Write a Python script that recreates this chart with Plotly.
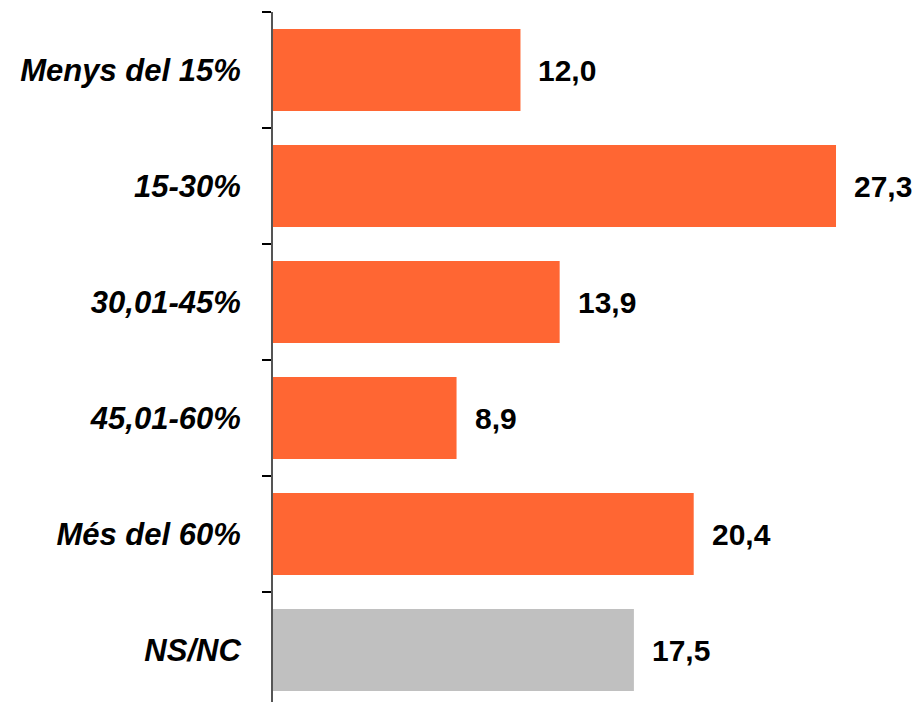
import plotly.graph_objects as go

categories = ["Menys del 15%", "15-30%", "30,01-45%", "45,01-60%", "Més del 60%", "NS/NC"]
values = [12.0, 27.3, 13.9, 8.9, 20.4, 17.5]
value_labels = ["12,0", "27,3", "13,9", "8,9", "20,4", "17,5"]
colors = ["#FF6633"] * 5 + ["#C0C0C0"]

FONT = "Liberation Sans, Arial, sans-serif"

fig = go.Figure()
fig.add_trace(go.Bar(
    x=values, y=categories, orientation="h",
    marker=dict(color=colors, line=dict(width=0)),
    hoverinfo="skip",
))

for c, v, t in zip(categories, values, value_labels):
    fig.add_annotation(
        x=v, y=c, text="<b>" + t + "</b>", showarrow=False,
        xanchor="left", yanchor="middle", xshift=16, yshift=0,
        font=dict(family=FONT, size=30, color="#000000"),
    )

fig.update_layout(
    width=915, height=702,
    margin=dict(l=273, r=0, t=12, b=0),
    paper_bgcolor="white", plot_bgcolor="white",
    showlegend=False,
    bargap=0.293,
    xaxis=dict(range=[0, 31.13], visible=False, fixedrange=True),
    yaxis=dict(
        type="category",
        categoryorder="array", categoryarray=categories,
        range=[5.448, -0.5],
        showline=True, linecolor="#555555", linewidth=2,
        ticks="outside", tickson="boundaries", ticklen=9,
        tickcolor="#000000", tickwidth=1.5,
        showgrid=False, zeroline=False,
        ticklabelstandoff=24,
        tickfont=dict(family=FONT, size=31, color="#000000", style="italic", weight="bold"),
    ),
)

fig.write_html(
    "out.html",
    config={"displayModeBar": False},
    post_script="document.body.style.margin='0';document.body.style.overflow='hidden';",
)
